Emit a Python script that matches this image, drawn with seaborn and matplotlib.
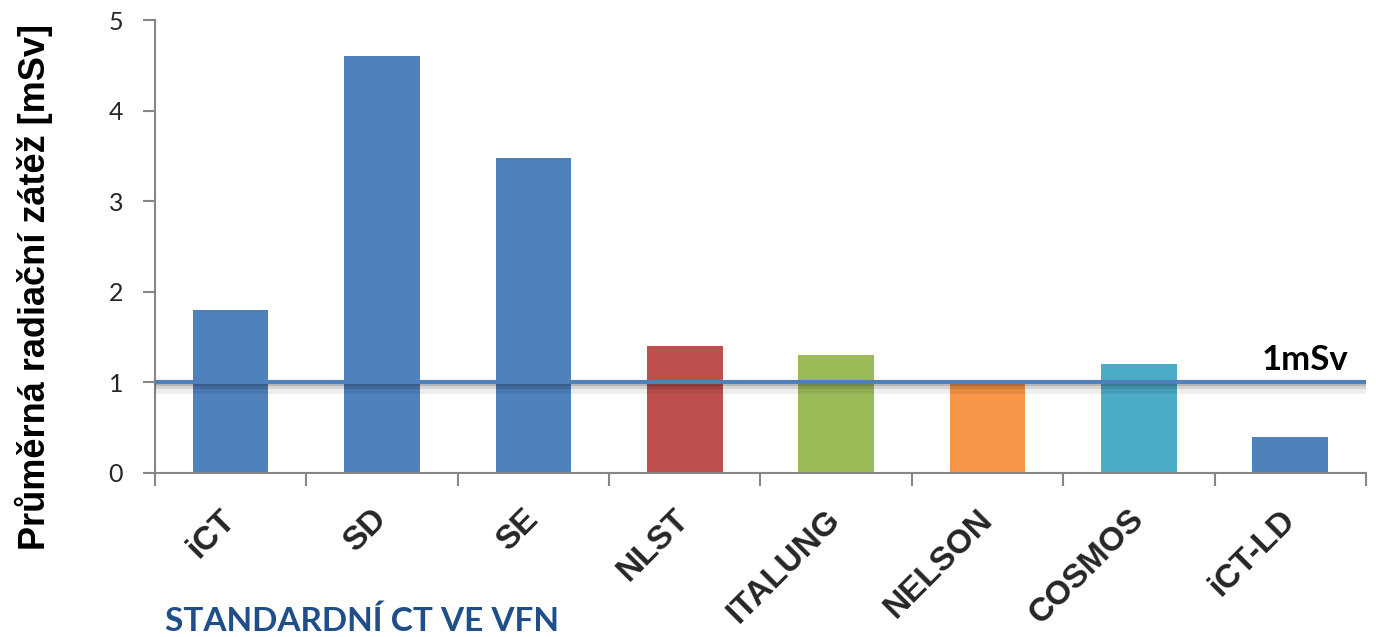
import matplotlib
matplotlib.use("Agg")
import matplotlib.pyplot as plt
import matplotlib.patheffects as pe
import seaborn as sns
import pandas as pd

# Mean radiation dose per screening programme
categories = ["iCT", "SD", "SE", "NLST", "ITALUNG", "NELSON", "COSMOS", "iCT-LD"]
dose_msv = [1.8, 4.6, 3.48, 1.4, 1.3, 1.0, 1.2, 0.4]
bar_colors = ["#4F81BD", "#4F81BD", "#4F81BD", "#C0504D", "#9BBB59",
              "#F79646", "#4BACC6", "#4F81BD"]
y_ticks = [0, 1, 2, 3, 4, 5]
limit_value = 1.0
limit_label = "1mSv"
y_label = "Průměrná radiační zátěž [mSv]"
group_label = "STANDARDNÍ CT VE VFN"

sns.set_theme(style="white")

df = pd.DataFrame({"program": categories, "dose": dose_msv})
palette = dict(zip(categories, bar_colors))

fig = plt.figure(figsize=(13.76, 6.37), dpi=100)
ax = fig.add_axes([0.1126, 0.2575, 0.8801, 0.7111])

sns.barplot(data=df, x="program", y="dose", hue="program", palette=palette,
            order=categories, hue_order=categories, width=0.5, saturation=1,
            legend=False, ax=ax, edgecolor="none")

# Reference dose level with a soft drop shadow
ax.axhline(limit_value, color="#4F81BD", linewidth=3.0, zorder=5,
           path_effects=[pe.SimpleLineShadow(offset=(0, -3.0), shadow_color="black",
                                             alpha=0.07, linewidth=9),
                         pe.SimpleLineShadow(offset=(0, -2.0), shadow_color="black",
                                             alpha=0.10, linewidth=5),
                         pe.SimpleLineShadow(offset=(0, -1.5), shadow_color="black",
                                             alpha=0.12, linewidth=3),
                         pe.Normal()])
ax.text(7.385, limit_value + 0.137, limit_label, ha="right", va="baseline",
        fontsize=25, fontweight="bold", family="Lato", color="black", zorder=6)

ax.set_xlim(-0.5, len(categories) - 0.5)
ax.set_ylim(0, 5)
ax.set_yticks(y_ticks)
ax.set_yticklabels([str(t) for t in y_ticks], family="Lato", fontsize=18)

# Category labels at centres, tick marks at the boundaries
ax.set_xticks(range(len(categories)))
ax.set_xticklabels(categories, rotation=45, ha="right", va="center",
                   rotation_mode="anchor", fontsize=24, fontweight="bold",
                   family="Liberation Sans")
ax.set_xticks([i - 0.5 for i in range(len(categories) + 1)], minor=True)
ax.tick_params(axis="x", which="major", length=0, pad=30)
ax.tick_params(axis="x", which="minor", length=9, width=1.5, color="#868686",
               direction="out", bottom=True)
ax.tick_params(axis="y", length=9, width=1.5, color="#868686", direction="out",
               left=True, pad=14)

ax.set_xlabel("")
ax.set_ylabel("")
for side in ("top", "right"):
    ax.spines[side].set_visible(False)
for side in ("left", "bottom"):
    ax.spines[side].set_color("#868686")
    ax.spines[side].set_linewidth(1.5)

fig.text(34 / 1376, 1 - 287 / 637, y_label, rotation=90, ha="center", va="center",
         fontsize=26, fontweight="bold", family="Liberation Sans", color="black")
fig.text(165 / 1376, 1 - 631 / 637, group_label, ha="left", va="baseline",
         fontsize=24, fontweight="bold", family="Lato", color="#1F4E89")

fig.savefig("out.png", dpi=100, facecolor="white")
